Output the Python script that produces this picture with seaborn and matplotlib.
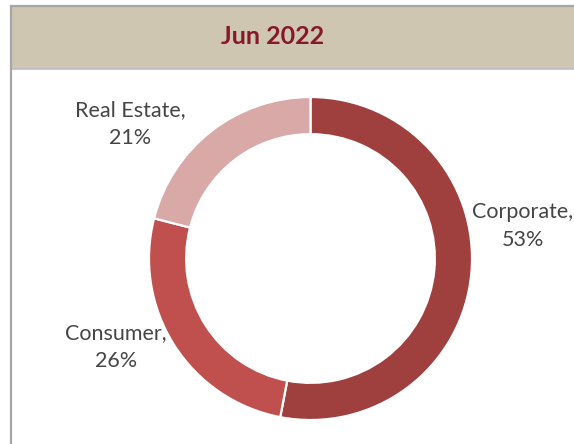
import matplotlib
matplotlib.use("Agg")
import matplotlib.pyplot as plt
import seaborn as sns
from matplotlib.patches import Rectangle
from matplotlib.lines import Line2D

# data
segments = ["Corporate", "Consumer", "Real Estate"]
shares = [53, 26, 21]
seg_colors = ["#9f3f3e", "#c0504d", "#d9a9a8"]
title = "Jun 2022"

# label centres in pixels (x, y from top)
label_px = {"Corporate": (523, 226), "Consumer": (116, 347), "Real Estate": (130, 124)}

W, H = 574, 444
sns.set_theme(style="white")
plt.rcParams["font.family"] = ["Lato", "DejaVu Sans"]

fig = plt.figure(figsize=(W / 100, H / 100), dpi=100)
fig.patch.set_facecolor("white")

# header band and frame lines (figure coords)
fig.patches.append(Rectangle((11 / W, 1 - 69 / H), 1, 63 / H, transform=fig.transFigure,
                             facecolor="#cec6b0", edgecolor="none", zorder=0))
fig.lines.append(Line2D([11 / W, 1], [1 - 6 / H, 1 - 6 / H], transform=fig.transFigure,
                        color="#a6a6a6", lw=1.6))
fig.lines.append(Line2D([11 / W, 1], [1 - 69.5 / H, 1 - 69.5 / H], transform=fig.transFigure,
                        color="#bdbdbd", lw=1.2))
fig.lines.append(Line2D([11 / W, 11 / W], [0, 1 - 6 / H], transform=fig.transFigure,
                        color="#a6a6a6", lw=1.6))
fig.text(273 / W, 1 - 36 / H, title, ha="center", va="center", fontsize=18,
         fontweight="bold", color="#86182a")

# donut
cx, cy, r = 310.5, 258.5, 161.5
ax = fig.add_axes([(cx - r) / W, (H - cy - r) / H, 2 * r / W, 2 * r / H])
ax.pie(shares, colors=seg_colors, startangle=90, counterclock=False, radius=1,
       wedgeprops=dict(width=0.23, edgecolor="white", linewidth=1.6))
ax.set_xlim(-1, 1)
ax.set_ylim(-1, 1)
ax.set_aspect("equal")
ax.axis("off")

for name, val in zip(segments, shares):
    px, py = label_px[name]
    ax.text((px - cx) / r, (cy - py) / r, f"{name},\n{val}%", ha="center", va="center",
            fontsize=15.5, color="#454545", linespacing=1.5)

fig.savefig("out.png", dpi=100)
